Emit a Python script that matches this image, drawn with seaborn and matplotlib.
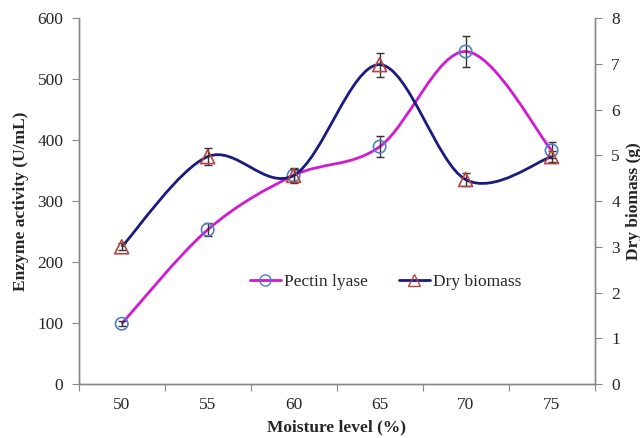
import numpy as np
import seaborn as sns
import matplotlib
matplotlib.use("Agg")
import matplotlib.pyplot as plt
from matplotlib.path import Path
from matplotlib.patches import PathPatch
from matplotlib.lines import Line2D

# Data
moisture = ["50", "55", "60", "65", "70", "75"]
pectin_lyase = [99, 253, 342, 389, 545, 383]
pectin_err = [4, 11, 12, 17, 25, 13]
dry_biomass = [3.0, 4.97, 4.56, 6.98, 4.47, 4.97]
biomass_err = [0.08, 0.18, 0.15, 0.26, 0.15, 0.12]

sns.set_style("white")
plt.rcParams['font.family'] = ['Liberation Serif', 'DejaVu Serif']
plt.rcParams['font.size'] = 12.5


def smooth_path(x, y):
    # Excel-like smoothed line: cubic Bezier through the points
    x = np.asarray(x, float)
    y = np.asarray(y, float)
    verts = [(x[0], y[0])]
    codes = [Path.MOVETO]
    t = 1.0 / 6.0
    n = len(x)
    for i in range(n - 1):
        x0, y0 = (x[i - 1], y[i - 1]) if i > 0 else (x[i], y[i])
        x3, y3 = (x[i + 2], y[i + 2]) if i + 2 < n else (x[i + 1], y[i + 1])
        c1 = (x[i] + (x[i + 1] - x0) * t, y[i] + (y[i + 1] - y0) * t)
        c2 = (x[i + 1] - (x3 - x[i]) * t, y[i + 1] - (y3 - y[i]) * t)
        verts += [c1, c2, (x[i + 1], y[i + 1])]
        codes += [Path.CURVE4] * 3
    return Path(verts, codes)


pos = np.arange(len(moisture)) + 0.5
pink = '#d21ad2'
navy = '#1a1a80'

fig, ax = plt.subplots(figsize=(6.4, 4.38), dpi=100)
fig.subplots_adjust(left=0.123, right=0.929, bottom=0.123, top=0.959)
ax2 = ax.twinx()

# Pectin lyase on left axis
ax.add_patch(PathPatch(smooth_path(pos, pectin_lyase), fill=False, edgecolor=pink, lw=2, zorder=3))
ax.errorbar(pos, pectin_lyase, yerr=pectin_err, fmt='none', ecolor='#333333', elinewidth=1, capsize=3, zorder=4)
sns.scatterplot(x=pos, y=pectin_lyase, ax=ax, marker='o', s=80, facecolor='none',
                edgecolor='#4f7fc6', linewidth=1.2, zorder=5)

# Dry biomass on right axis
ax2.add_patch(PathPatch(smooth_path(pos, dry_biomass), fill=False, edgecolor=navy, lw=2, zorder=3))
ax2.errorbar(pos, dry_biomass, yerr=biomass_err, fmt='none', ecolor='#333333', elinewidth=1, capsize=3, zorder=4)
sns.scatterplot(x=pos, y=dry_biomass, ax=ax2, marker='^', s=100, facecolor='none',
                edgecolor='#b5443f', linewidth=1.2, zorder=5)

ax.set_xlim(0, len(moisture))
ax.set_ylim(0, 600)
ax2.set_ylim(0, 8)
ax.set_yticks(range(0, 601, 100))
ax2.set_yticks(range(0, 9))

# category axis: ticks between categories, labels at centers
ax.set_xticks(np.arange(len(moisture) + 1))
ax.set_xticklabels([])
ax.set_xticks(pos, minor=True)
ax.set_xticklabels(moisture, minor=True)
ax.tick_params(axis='x', which='major', direction='out', length=5, color='#888888', bottom=True)
ax.tick_params(axis='x', which='minor', length=0, pad=9)
ax.tick_params(axis='y', direction='out', length=5, color='#888888', left=True, pad=6)
ax2.tick_params(axis='y', direction='out', length=5, color='#888888', right=True, pad=7)

for a in (ax, ax2):
    a.spines['top'].set_visible(False)
    for s in ('left', 'bottom', 'right'):
        a.spines[s].set_color('#888888')
        a.spines[s].set_linewidth(1)

ax.set_xlabel('Moisture level (%)', fontweight='bold', labelpad=5)
ax.set_ylabel('Enzyme activity (U/mL)', fontweight='bold', labelpad=6)
ax2.set_ylabel('Dry biomass (g)', fontweight='bold', labelpad=4)

handles = [
    Line2D([], [], color=pink, lw=2, marker='o', markersize=8, markerfacecolor='none', markeredgecolor='#4f7fc6'),
    Line2D([], [], color=navy, lw=2, marker='^', markersize=9, markerfacecolor='none', markeredgecolor='#b5443f'),
]
ax2.legend(handles, ['Pectin lyase', 'Dry biomass'], ncol=2, frameon=False,
           loc='center', bbox_to_anchor=(0.595, 0.28), handlelength=1.8,
           handletextpad=0.2, columnspacing=1.75, fontsize=12.5)

plt.savefig('out.png', dpi=100)
